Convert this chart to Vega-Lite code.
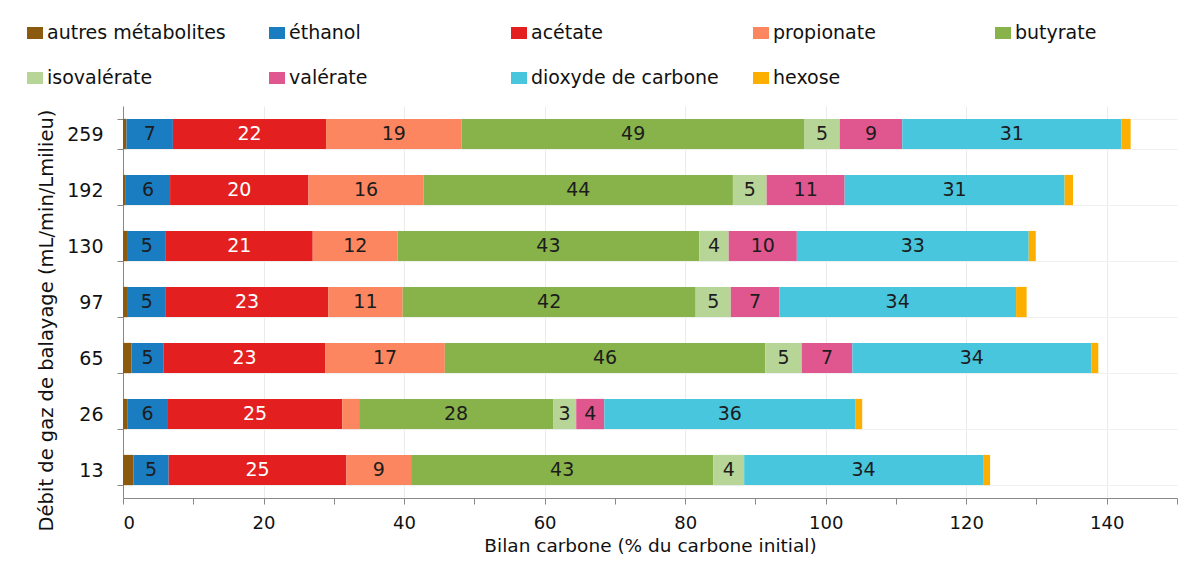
{
  "$schema": "https://vega.github.io/schema/vega-lite/v6.json",
  "autosize": "none",
  "width": 1054,
  "height": 392,
  "padding": {"left": 123, "top": 106, "right": 23, "bottom": 69},
  "background": "white",
  "config": {"view": {"stroke": null}, "font": "DejaVu Sans"},
  "data": {"values": [
    {"debit": "259", "composant": "autres métabolites", "ordre": 1, "valeur": 0.5},
    {"debit": "259", "composant": "éthanol", "ordre": 2, "valeur": 6.6},
    {"debit": "259", "composant": "acétate", "ordre": 3, "valeur": 21.8},
    {"debit": "259", "composant": "propionate", "ordre": 4, "valeur": 19.3},
    {"debit": "259", "composant": "butyrate", "ordre": 5, "valeur": 48.8},
    {"debit": "259", "composant": "isovalérate", "ordre": 6, "valeur": 5.0},
    {"debit": "259", "composant": "valérate", "ordre": 7, "valeur": 8.9},
    {"debit": "259", "composant": "dioxyde de carbone", "ordre": 8, "valeur": 31.2},
    {"debit": "259", "composant": "hexose", "ordre": 9, "valeur": 1.3},
    {"debit": "192", "composant": "autres métabolites", "ordre": 1, "valeur": 0.4},
    {"debit": "192", "composant": "éthanol", "ordre": 2, "valeur": 6.3},
    {"debit": "192", "composant": "acétate", "ordre": 3, "valeur": 19.7},
    {"debit": "192", "composant": "propionate", "ordre": 4, "valeur": 16.4},
    {"debit": "192", "composant": "butyrate", "ordre": 5, "valeur": 44.0},
    {"debit": "192", "composant": "isovalérate", "ordre": 6, "valeur": 4.8},
    {"debit": "192", "composant": "valérate", "ordre": 7, "valeur": 11.1},
    {"debit": "192", "composant": "dioxyde de carbone", "ordre": 8, "valeur": 31.3},
    {"debit": "192", "composant": "hexose", "ordre": 9, "valeur": 1.2},
    {"debit": "130", "composant": "autres métabolites", "ordre": 1, "valeur": 0.7},
    {"debit": "130", "composant": "éthanol", "ordre": 2, "valeur": 5.4},
    {"debit": "130", "composant": "acétate", "ordre": 3, "valeur": 20.9},
    {"debit": "130", "composant": "propionate", "ordre": 4, "valeur": 12.1},
    {"debit": "130", "composant": "butyrate", "ordre": 5, "valeur": 42.9},
    {"debit": "130", "composant": "isovalérate", "ordre": 6, "valeur": 4.2},
    {"debit": "130", "composant": "valérate", "ordre": 7, "valeur": 9.7},
    {"debit": "130", "composant": "dioxyde de carbone", "ordre": 8, "valeur": 33.0},
    {"debit": "130", "composant": "hexose", "ordre": 9, "valeur": 1.0},
    {"debit": "97", "composant": "autres métabolites", "ordre": 1, "valeur": 0.7},
    {"debit": "97", "composant": "éthanol", "ordre": 2, "valeur": 5.4},
    {"debit": "97", "composant": "acétate", "ordre": 3, "valeur": 23.1},
    {"debit": "97", "composant": "propionate", "ordre": 4, "valeur": 10.6},
    {"debit": "97", "composant": "butyrate", "ordre": 5, "valeur": 41.7},
    {"debit": "97", "composant": "isovalérate", "ordre": 6, "valeur": 5.0},
    {"debit": "97", "composant": "valérate", "ordre": 7, "valeur": 6.9},
    {"debit": "97", "composant": "dioxyde de carbone", "ordre": 8, "valeur": 33.7},
    {"debit": "97", "composant": "hexose", "ordre": 9, "valeur": 1.5},
    {"debit": "65", "composant": "autres métabolites", "ordre": 1, "valeur": 1.2},
    {"debit": "65", "composant": "éthanol", "ordre": 2, "valeur": 4.6},
    {"debit": "65", "composant": "acétate", "ordre": 3, "valeur": 23.0},
    {"debit": "65", "composant": "propionate", "ordre": 4, "valeur": 17.0},
    {"debit": "65", "composant": "butyrate", "ordre": 5, "valeur": 45.6},
    {"debit": "65", "composant": "isovalérate", "ordre": 6, "valeur": 5.2},
    {"debit": "65", "composant": "valérate", "ordre": 7, "valeur": 7.2},
    {"debit": "65", "composant": "dioxyde de carbone", "ordre": 8, "valeur": 34.0},
    {"debit": "65", "composant": "hexose", "ordre": 9, "valeur": 1.0},
    {"debit": "26", "composant": "autres métabolites", "ordre": 1, "valeur": 0.6},
    {"debit": "26", "composant": "éthanol", "ordre": 2, "valeur": 5.8},
    {"debit": "26", "composant": "acétate", "ordre": 3, "valeur": 24.8},
    {"debit": "26", "composant": "propionate", "ordre": 4, "valeur": 2.4},
    {"debit": "26", "composant": "butyrate", "ordre": 5, "valeur": 27.6},
    {"debit": "26", "composant": "isovalérate", "ordre": 6, "valeur": 3.3},
    {"debit": "26", "composant": "valérate", "ordre": 7, "valeur": 4.0},
    {"debit": "26", "composant": "dioxyde de carbone", "ordre": 8, "valeur": 35.7},
    {"debit": "26", "composant": "hexose", "ordre": 9, "valeur": 1.0},
    {"debit": "13", "composant": "autres métabolites", "ordre": 1, "valeur": 1.5},
    {"debit": "13", "composant": "éthanol", "ordre": 2, "valeur": 5.0},
    {"debit": "13", "composant": "acétate", "ordre": 3, "valeur": 25.3},
    {"debit": "13", "composant": "propionate", "ordre": 4, "valeur": 9.2},
    {"debit": "13", "composant": "butyrate", "ordre": 5, "valeur": 43.0},
    {"debit": "13", "composant": "isovalérate", "ordre": 6, "valeur": 4.4},
    {"debit": "13", "composant": "valérate", "ordre": 7, "valeur": 0},
    {"debit": "13", "composant": "dioxyde de carbone", "ordre": 8, "valeur": 34.0},
    {"debit": "13", "composant": "hexose", "ordre": 9, "valeur": 1.0}
  ]},
  "encoding": {
    "y": {
      "field": "debit", "type": "nominal",
      "sort": ["259", "192", "130", "97", "65", "26", "13"],
      "scale": {"paddingInner": 0.46, "paddingOuter": 0.23},
      "axis": {
        "title": "Débit de gaz de balayage (mL/min/Lmilieu)",
        "titleFont": "DejaVu Sans", "titleFontSize": 19.5, "titleFontWeight": "normal", "titleColor": "#111",
        "titlePadding": 10, "titleAnchor": "middle", "titleY": 214,
        "labelFont": "DejaVu Sans", "labelFontSize": 19, "labelColor": "#111", "labelPadding": 14,
        "tickBand": "extent", "tickSize": 6, "tickColor": "#888", "domainColor": "#888",
        "grid": true, "gridColor": "#f0f0f0"
      }
    },
    "x": {
      "field": "valeur", "type": "quantitative", "stack": "zero",
      "scale": {"domain": [0, 150], "nice": false},
      "axis": {
        "title": "Bilan carbone (% du carbone initial)",
        "titleFont": "DejaVu Sans", "titleFontSize": 18.5, "titleFontWeight": "normal", "titleColor": "#111",
        "titlePadding": 4,
        "values": [0, 10, 20, 30, 40, 50, 60, 70, 80, 90, 100, 110, 120, 130, 140, 150],
        "labelExpr": "datum.value % 20 == 0 && datum.value <= 140 ? datum.label : ''",
        "labelFont": "DejaVu Sans", "labelFontSize": 18, "labelColor": "#111", "labelPadding": 10,
        "tickSize": 6, "tickColor": "#888", "domainColor": "#888",
        "grid": true, "gridColor": "#ebebeb",
        "gridOpacity": {"condition": {"test": "datum.value % 20 == 0 && datum.value > 0 && datum.value < 150", "value": 1}, "value": 0}
      }
    },
    "order": {"field": "ordre", "type": "quantitative"}
  },
  "layer": [
    {
      "mark": {"type": "bar"},
      "encoding": {
        "color": {
          "field": "composant", "type": "nominal",
          "scale": {
            "domain": ["autres métabolites", "éthanol", "acétate", "propionate", "butyrate", "isovalérate", "valérate", "dioxyde de carbone", "hexose"],
            "range": ["#8C5A0E", "#1A7CC1", "#E3201F", "#FB8660", "#88B24A", "#B8D598", "#E0578F", "#47C6DE", "#FDAF00"]
          },
          "legend": {
            "title": null, "orient": "none", "legendX": -104, "legendY": -89, "direction": "horizontal",
            "columns": 5, "gridAlign": "all", "columnPadding": 26, "rowPadding": 19,
            "symbolType": "M-0.5,-0.375H0.5V0.375H-0.5Z", "symbolSize": 1024, "symbolStrokeWidth": 0,
            "labelFont": "DejaVu Sans", "labelFontSize": 19, "labelColor": "#111", "labelOffset": -4, "labelLimit": 300
          }
        }
      }
    },
    {
      "mark": {"type": "text", "font": "DejaVu Sans", "fontSize": 19, "baseline": "middle", "align": "center"},
      "encoding": {
        "x": {"field": "valeur", "type": "quantitative", "stack": "zero", "bandPosition": 0.5},
        "text": {"condition": {"test": "datum.valeur < 2.9", "value": ""}, "field": "valeur", "type": "quantitative", "format": ".0f"},
        "color": {"condition": {"test": "datum.composant === 'acétate'", "value": "white"}, "value": "#1c1c1c"}
      }
    }
  ]
}
